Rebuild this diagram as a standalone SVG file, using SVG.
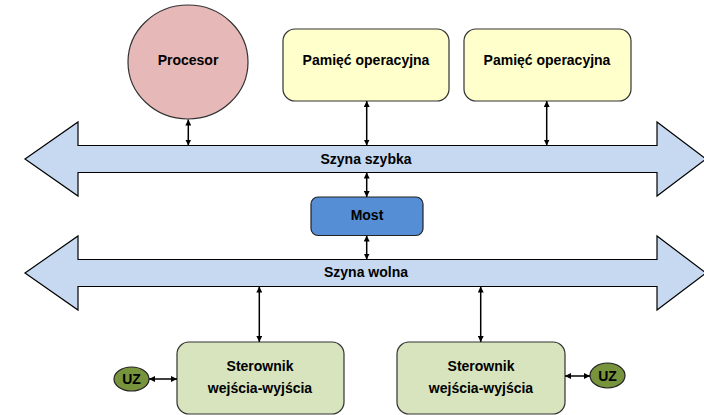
<svg xmlns="http://www.w3.org/2000/svg" width="704" height="415" viewBox="0 0 704 415">
<defs>
<style>
text{font-family:"Liberation Sans",Arial,sans-serif;font-weight:bold;font-size:14px;fill:#000;text-anchor:middle;dominant-baseline:central}
.bus{fill:#c6d9f1;stroke:#000;stroke-width:1.2}
.mem{fill:#ffffcc;stroke:#333;stroke-width:1.2}
.ctl{fill:#d7e4bd;stroke:#333;stroke-width:1.2}
.uz{fill:#77933c;stroke:#222;stroke-width:1.2}
.con{stroke:#000;stroke-width:1.5;fill:none;marker-start:url(#ah);marker-end:url(#ah)}
</style>
<marker id="ah" viewBox="0 0 10 10" refX="10" refY="5" markerWidth="4" markerHeight="4" orient="auto-start-reverse" markerUnits="strokeWidth">
<path d="M0,0 L10,5 L0,10 z" fill="#000"/>
</marker>
</defs>
<g id="szyna-szybka">
<polygon class="bus" points="25,159 78,122 78,145.5 657,145.5 657,122 706,159 657,196 657,172.5 78,172.5 78,196"/>
<text x="366" y="159">Szyna szybka</text>
</g>
<g id="szyna-wolna">
<polygon class="bus" points="25,273 78,236 78,259.5 657,259.5 657,236 706,273 657,310 657,286.5 78,286.5 78,310"/>
<text x="366" y="272">Szyna wolna</text>
</g>
<g id="procesor">
<ellipse cx="188" cy="62" rx="60" ry="57" fill="#e6b9b8" stroke="#333" stroke-width="1.2"/>
<text x="188" y="60">Procesor</text>
</g>
<g id="pamiec1">
<rect class="mem" x="283" y="29" width="166" height="72" rx="12"/>
<text x="366" y="60">Pamięć operacyjna</text>
</g>
<g id="pamiec2">
<rect class="mem" x="464" y="29" width="167" height="72" rx="12"/>
<text x="547" y="60">Pamięć operacyjna</text>
</g>
<g id="most">
<rect x="311" y="197" width="112" height="38.5" rx="7" fill="#558ed5" stroke="#222" stroke-width="1.2"/>
<text x="367" y="215">Most</text>
</g>
<g id="sterownik1">
<rect class="ctl" x="177" y="342" width="167" height="72" rx="12"/>
<text x="260" y="366">Sterownik</text>
<text x="260" y="388">wejścia-wyjścia</text>
</g>
<g id="sterownik2">
<rect class="ctl" x="397" y="342" width="168" height="72" rx="12"/>
<text x="481" y="366">Sterownik</text>
<text x="481" y="388">wejścia-wyjścia</text>
</g>
<g id="uz1">
<ellipse class="uz" cx="131.5" cy="379" rx="17.5" ry="12"/>
<text x="131.5" y="379">UZ</text>
</g>
<g id="uz2">
<ellipse class="uz" cx="607.5" cy="375.5" rx="17.5" ry="12.5"/>
<text x="607.5" y="375.5">UZ</text>
</g>
<g id="connectors">
<line class="con" x1="188.3" y1="119.5" x2="188.3" y2="145.5"/>
<line class="con" x1="366.7" y1="101" x2="366.7" y2="145.5"/>
<line class="con" x1="546.7" y1="101" x2="546.7" y2="145.5"/>
<line class="con" x1="366.7" y1="172.5" x2="366.7" y2="197"/>
<line class="con" x1="366.7" y1="235.5" x2="366.7" y2="259.5"/>
<line class="con" x1="259.3" y1="286.5" x2="259.3" y2="342"/>
<line class="con" x1="480.7" y1="286.5" x2="480.7" y2="342"/>
<line class="con" x1="149" y1="379" x2="177" y2="379"/>
<line class="con" x1="565" y1="376" x2="590" y2="376"/>
</g>
</svg>
